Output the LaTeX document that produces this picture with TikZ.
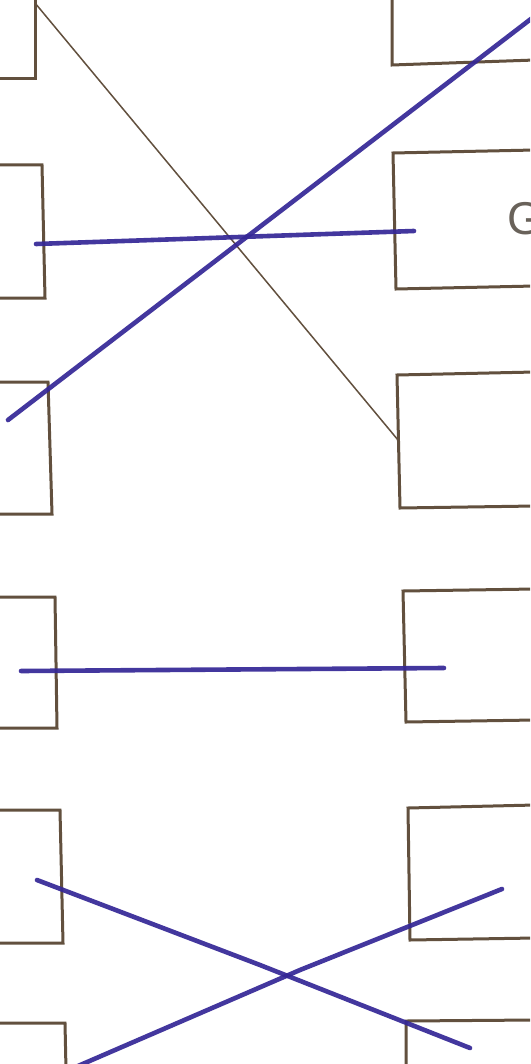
\documentclass[tikz,border=0pt]{standalone}
\usepackage{fontspec}
\setmainfont{Liberation Sans}
\definecolor{penbrown}{RGB}{98,80,62}
\definecolor{inkblue}{RGB}{52,38,150}
\definecolor{txtgray}{RGB}{105,98,90}
\begin{document}
\begin{tikzpicture}[x=1pt,y=-1pt,
  boxline/.style={draw=penbrown,line width=3pt,line join=miter},
  thinline/.style={draw=penbrown,line width=1.5pt},
  blueline/.style={draw=inkblue,line width=4.6pt,line cap=round,opacity=0.92},
  lbl/.style={text=txtgray,inner sep=0pt}]
\useasboundingbox (0,0) rectangle (530,1064);
\clip (0,0) rectangle (530,1064);
\fill[white] (0,0) rectangle (530,1064);
% left boxes
\draw[boxline] (-5,-5) -- (35,-5) -- (35,79) -- (-5,79);
\draw[boxline] (-5,165) -- (42,165) -- (45,298) -- (-5,298);
\draw[boxline] (-5,382) -- (48,382) -- (52,514) -- (-5,514);
\draw[boxline] (-5,597) -- (55,597) -- (57,728) -- (-5,728);
\draw[boxline] (-5,810) -- (60,810) -- (63,943) -- (-5,943);
\draw[boxline] (-5,1023) -- (65,1023) -- (66,1070);
% right boxes
\draw[boxline] (392,-5) -- (392,65) -- (535,60);
\draw[boxline] (535,150) -- (393,153) -- (396,289) -- (535,286);
\draw[boxline] (535,372) -- (397,375) -- (400,508) -- (535,506);
\draw[boxline] (535,589) -- (403,591) -- (406,722) -- (535,720);
\draw[boxline] (535,805) -- (408,808) -- (410,940) -- (535,938);
\draw[boxline] (535,1020) -- (406,1021) -- (406,1070);
% text
\node[lbl,anchor=west,font=\fontsize{46}{46}\selectfont] (g) at (507,219) {G};
\node[lbl,anchor=north west,font=\fontsize{22}{22}\selectfont] (cm) at (507,-14) {,};
% named endpoints
\coordinate (l1c) at (35,3);
\coordinate (r3p) at (398,440);
\coordinate (a1) at (8,420);   \coordinate (a2) at (540,12);
\coordinate (b1) at (36,244);  \coordinate (b2) at (414,231);
\coordinate (c1) at (21,671);  \coordinate (c2) at (444,668);
\coordinate (d1) at (37,880);  \coordinate (dm) at (260,965); \coordinate (d2) at (470,1048);
\coordinate (e1) at (78,1066); \coordinate (em) at (300,970); \coordinate (e2) at (502,889);
% connectors
\draw[thinline] (l1c) -- (r3p);
\draw[blueline] (a1) -- (a2);
\draw[blueline] (b1) -- (b2);
\draw[blueline] (c1) -- (c2);
\draw[blueline] (d1) -- (dm) -- (d2);
\draw[blueline] (e1) -- (em) -- (e2);
\end{tikzpicture}
\end{document}
